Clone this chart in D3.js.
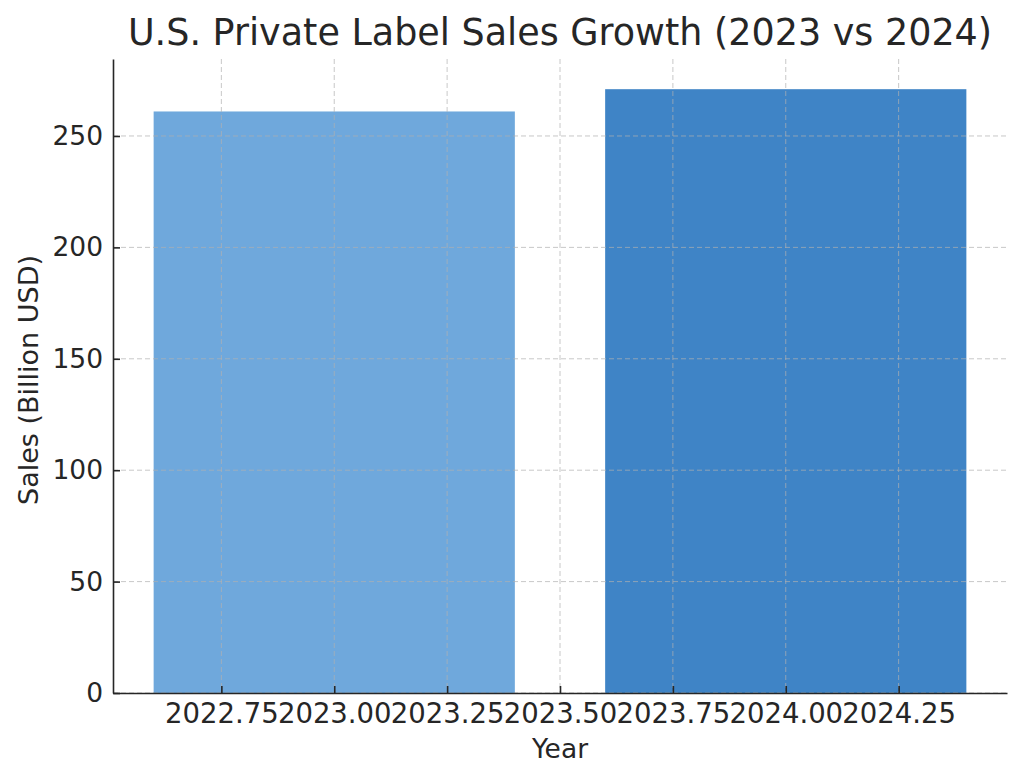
<!DOCTYPE html>
<html>
<head>
<meta charset="utf-8">
<script src="https://cdn.jsdelivr.net/npm/d3@7"></script>
<style>
  body { margin: 0; background: #fff; }
  text { font-family: "DejaVu Sans", sans-serif; fill: #262626; }
</style>
</head>
<body>
<svg id="chart" width="1024" height="780"></svg>
<script>
// data
var years = [2023, 2024]
var sales = [261, 271]
var barColors = ["#6fa8dc", "#3f84c6"]
var xTicks = [2022.75, 2023.00, 2023.25, 2023.50, 2023.75, 2024.00, 2024.25]
var yTicks = [0, 50, 100, 150, 200, 250]

var margin = {left: 113, right: 17, top: 59, bottom: 87}
var width = 1024 - margin.left - margin.right
var height = 780 - margin.top - margin.bottom
var barWidth = 0.8

var svg = d3.select("#chart")

// matplotlib style 5% margins
var xmin = d3.min(years) - barWidth / 2
var xmax = d3.max(years) + barWidth / 2
var pad = (xmax - xmin) * 0.05

var xScale = d3.scaleLinear()
                .domain([xmin - pad, xmax + pad])
                .range([0, width])

var yScale = d3.scaleLinear()
                .domain([0, d3.max(sales) * 1.05])
                .range([height, 0])

var g = svg.append("g")
    .attr("transform", "translate(" + margin.left + "," + margin.top + ")")

// bars
g.selectAll("rect.bar")
    .data(years)
    .enter()
        .append("rect")
        .attr("class", "bar")
        .attr("x", function(d){ return xScale(d - barWidth / 2) })
        .attr("width", function(d){ return xScale(d + barWidth / 2) - xScale(d - barWidth / 2) })
        .attr("y", function(d, i){ return yScale(sales[i]) })
        .attr("height", function(d, i){ return height - yScale(sales[i]) })
        .attr("fill", function(d, i){ return barColors[i] })

// grid (drawn over bars)
g.selectAll("line.vgrid")
    .data(xTicks)
    .enter()
        .append("line")
        .attr("class", "vgrid")
        .attr("x1", function(d){ return xScale(d) })
        .attr("x2", function(d){ return xScale(d) })
        .attr("y1", 0)
        .attr("y2", height)
        .attr("stroke", "#b0b0b0")
        .attr("stroke-opacity", 0.7)
        .attr("stroke-width", 1)
        .attr("stroke-dasharray", "5,3")

g.selectAll("line.hgrid")
    .data(yTicks)
    .enter()
        .append("line")
        .attr("class", "hgrid")
        .attr("x1", 0)
        .attr("x2", width)
        .attr("y1", function(d){ return yScale(d) })
        .attr("y2", function(d){ return yScale(d) })
        .attr("stroke", "#b0b0b0")
        .attr("stroke-opacity", 0.7)
        .attr("stroke-width", 1)
        .attr("stroke-dasharray", "5,3")

// axes, ticks pointing inward
var xAxis = d3.axisBottom(xScale)
                .tickValues(xTicks)
                .tickFormat(d3.format(".2f"))
                .tickSizeInner(-7)
                .tickSizeOuter(0)
                .tickPadding(10)

var yAxis = d3.axisLeft(yScale)
                .tickValues(yTicks)
                .tickSizeInner(-7)
                .tickSizeOuter(0)
                .tickPadding(10)

var gx = g.append("g")
    .attr("transform", "translate(0," + height + ")")
    .call(xAxis)

var gy = g.append("g")
    .call(yAxis)

gx.selectAll("text").style("font-size", "27.5px").attr("fill", "#262626")
gy.selectAll("text").style("font-size", "26.5px").attr("fill", "#262626")
gx.select(".domain").attr("stroke", "#262626").attr("stroke-width", 1.6)
gy.select(".domain").attr("stroke", "#262626").attr("stroke-width", 1.6)
gx.selectAll(".tick line").attr("stroke", "#262626").attr("stroke-width", 1.6)
gy.selectAll(".tick line").attr("stroke", "#262626").attr("stroke-width", 1.6)

// labels
svg.append("text")
    .attr("x", margin.left + width / 2)
    .attr("y", 45)
    .attr("text-anchor", "middle")
    .style("font-size", "36.5px")
    .attr("fill", "#333")
    .text("U.S. Private Label Sales Growth (2023 vs 2024)")

svg.append("text")
    .attr("x", margin.left + width / 2)
    .attr("y", 758)
    .attr("text-anchor", "middle")
    .style("font-size", "26.5px")
    .text("Year")

svg.append("text")
    .attr("transform", "translate(38," + (margin.top + height / 2 + 4) + ") rotate(-90)")
    .attr("text-anchor", "middle")
    .style("font-size", "27px")
    .text("Sales (Billion USD)")
</script>
</body>
</html>
